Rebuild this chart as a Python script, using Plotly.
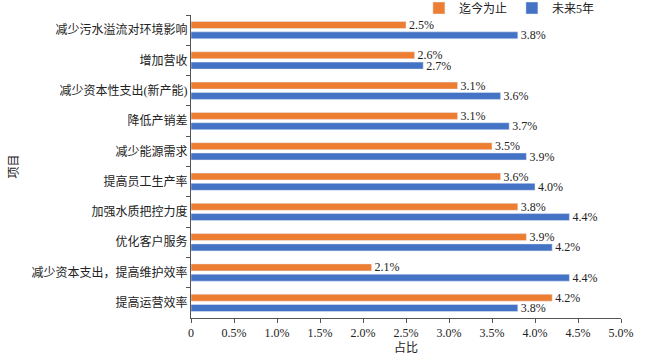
import plotly.graph_objects as go

categories = ["减少污水溢流对环境影响", "增加营收", "减少资本性支出(新产能)", "降低产销差",
              "减少能源需求", "提高员工生产率", "加强水质把控力度", "优化客户服务",
              "减少资本支出，提高维护效率", "提高运营效率"]
so_far = [2.5, 2.6, 3.1, 3.1, 3.5, 3.6, 3.8, 3.9, 2.1, 4.2]
next5 = [3.8, 2.7, 3.6, 3.7, 3.9, 4.0, 4.4, 4.2, 4.4, 3.8]
series_names = ["迄今为止", "未来5年"]
x_tickvals = [0, 0.5, 1.0, 1.5, 2.0, 2.5, 3.0, 3.5, 4.0, 4.5, 5.0]
x_ticktext = ["0", "0.5%", "1.0%", "1.5%", "2.0%", "2.5%", "3.0%", "3.5%", "4.0%", "4.5%", "5.0%"]

FONT = "'Liberation Serif', 'Noto Sans CJK SC', serif"

fig = go.Figure()
fig.add_trace(go.Bar(y=categories, x=so_far, name=series_names[0], orientation="h",
                     marker_color="#ED7D31", text=[f"{v:.1f}%" for v in so_far],
                     textposition="outside", cliponaxis=False, constraintext="none",
                     textfont=dict(size=12, color="#222", family=FONT)))
fig.add_trace(go.Bar(y=categories, x=next5, name=series_names[1], orientation="h",
                     marker_color="#4472C4", text=[f"{v:.1f}%" for v in next5],
                     textposition="outside", cliponaxis=False, constraintext="none",
                     textfont=dict(size=12, color="#222", family=FONT)))

fig.update_layout(
    width=659, height=358,
    margin=dict(l=191, r=38, t=15, b=40, autoexpand=False),
    paper_bgcolor="white", plot_bgcolor="white",
    barmode="group", bargap=0.32, bargroupgap=0.32,
    font=dict(family=FONT, size=12, color="#222"),
    showlegend=True,
    legend=dict(orientation="h", x=0.53, y=1.023, xanchor="left", yanchor="middle",
                font=dict(size=12, family=FONT), itemwidth=30, traceorder="normal",
                bgcolor="rgba(0,0,0,0)"),
    xaxis=dict(range=[0, 5.0], tickvals=x_tickvals, ticktext=x_ticktext,
               showline=True, linecolor="#555", linewidth=1, ticks="outside",
               ticklen=4, tickcolor="#555", showgrid=False, zeroline=False,
               tickfont=dict(size=12, family=FONT),
               title=dict(text="占比", font=dict(size=12, family=FONT), standoff=2)),
    yaxis=dict(autorange="reversed", showline=True, linecolor="#555", linewidth=1,
               ticks="outside", tickson="boundaries", ticklen=4, tickcolor="#555",
               showgrid=False, tickfont=dict(size=12, family=FONT),
               title=dict(text="项目", font=dict(size=12, family=FONT), standoff=10)),
)

fig.write_html("out.html", config={"displayModeBar": False},
               post_script="document.body.style.margin='0px';")
